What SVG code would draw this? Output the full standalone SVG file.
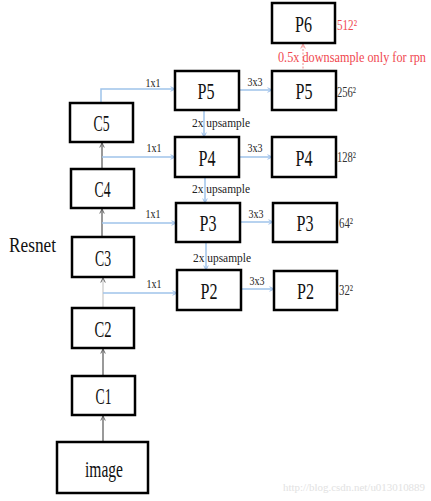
<svg xmlns="http://www.w3.org/2000/svg" width="431" height="501" viewBox="0 0 431 501">
<style>
.box{fill:#fff;stroke:#000;stroke-width:2.5}
.lbl{font-family:"Liberation Serif",serif;font-size:24px;fill:#111;text-anchor:middle}
.sm{font-family:"Liberation Serif",serif;font-size:13px;fill:#222}
.sz{font-family:"Liberation Serif",serif;font-size:15px;fill:#333}
.blue{fill:none;stroke:#9fc3ea;stroke-width:1.5;marker-end:url(#ab)}
.gray{fill:none;stroke:#555;stroke-width:1.2;marker-end:url(#ag)}
.lgray{fill:none;stroke:#c8c8c8;stroke-width:1.2;marker-end:url(#ag)}
.red{fill:none;stroke:#f08a8a;stroke-width:1;stroke-dasharray:2,1.5;marker-end:url(#ar)}
</style>
<defs>
<marker id="ab" viewBox="0 0 8 8" refX="7" refY="4" markerWidth="6" markerHeight="6" markerUnits="userSpaceOnUse" orient="auto"><path d="M1,1 L7,4 L1,7" fill="none" stroke="#8fb6e6" stroke-width="1.2"/></marker>
<marker id="ag" viewBox="0 0 8 8" refX="7" refY="4" markerWidth="6" markerHeight="6" markerUnits="userSpaceOnUse" orient="auto"><path d="M1,1 L7,4 L1,7" fill="none" stroke="#555" stroke-width="1.2"/></marker>
<marker id="ar" viewBox="0 0 8 8" refX="7" refY="4" markerWidth="6" markerHeight="6" markerUnits="userSpaceOnUse" orient="auto"><path d="M1,1 L7,4 L1,7" fill="none" stroke="#f08a8a" stroke-width="1.2"/></marker>
</defs>
<rect width="431" height="501" fill="#fff"/>
<g id="connectors">
<path class="blue" d="M101,103 V89 H175"/>
<path class="gray" d="M102,169 V143"/>
<path class="blue" d="M102,157 H175"/>
<path class="gray" d="M102,237 V209"/>
<path class="blue" d="M102,223 H176"/>
<path class="lgray" d="M103,308 V278"/>
<path class="blue" d="M103,293 H177"/>
<path class="gray" d="M103,376 V349"/>
<path class="gray" d="M103,442 V416"/>
<path class="blue" d="M239,90 H272"/>
<path class="blue" d="M239,157 H272"/>
<path class="blue" d="M240,222 H273"/>
<path class="blue" d="M241,289 H274"/>
<path class="blue" d="M204,111 V137"/>
<path class="blue" d="M205,178 V203"/>
<path class="blue" d="M206,243 V270"/>
<path class="red" d="M303,72 V44"/>
<text class="sm" x="153" y="87" text-anchor="middle" textLength="15" lengthAdjust="spacingAndGlyphs">1x1</text>
<text class="sm" x="154" y="152" text-anchor="middle" textLength="15" lengthAdjust="spacingAndGlyphs">1x1</text>
<text class="sm" x="153" y="218" text-anchor="middle" textLength="15" lengthAdjust="spacingAndGlyphs">1x1</text>
<text class="sm" x="154" y="288" text-anchor="middle" textLength="15" lengthAdjust="spacingAndGlyphs">1x1</text>
<text class="sm" x="255" y="86" text-anchor="middle" textLength="15" lengthAdjust="spacingAndGlyphs">3x3</text>
<text class="sm" x="255" y="152" text-anchor="middle" textLength="15" lengthAdjust="spacingAndGlyphs">3x3</text>
<text class="sm" x="256" y="218" text-anchor="middle" textLength="15" lengthAdjust="spacingAndGlyphs">3x3</text>
<text class="sm" x="257" y="285" text-anchor="middle" textLength="15" lengthAdjust="spacingAndGlyphs">3x3</text>
<text class="sm" x="192" y="127" textLength="58" lengthAdjust="spacingAndGlyphs">2x upsample</text>
<text class="sm" x="192" y="193" textLength="58" lengthAdjust="spacingAndGlyphs">2x upsample</text>
<text class="sm" x="193" y="262" textLength="58" lengthAdjust="spacingAndGlyphs">2x upsample</text>
<text transform="translate(278,62) scale(0.8,1)" x="0" y="0" font-family="Liberation Serif, serif" font-size="14" fill="#f0484f" textLength="185" lengthAdjust="spacingAndGlyphs">0.5x downsample only for rpn</text>
</g>
<g id="P6"><rect class="box" x="272" y="3" width="63" height="40"/><text class="lbl" x="303.5" y="32" textLength="17" lengthAdjust="spacingAndGlyphs">P6</text>
<text x="337" y="30" font-family="Liberation Serif, serif" font-size="14" fill="#f0484f" textLength="20" lengthAdjust="spacingAndGlyphs">512²</text></g>
<g id="P5out"><rect class="box" x="272" y="71" width="64" height="39"/><text class="lbl" x="304" y="99" textLength="17" lengthAdjust="spacingAndGlyphs">P5</text>
<text class="sz" x="337" y="97" textLength="19" lengthAdjust="spacingAndGlyphs">256²</text></g>
<g id="P4out"><rect class="box" x="272" y="137" width="64" height="40"/><text class="lbl" x="304" y="166" textLength="17" lengthAdjust="spacingAndGlyphs">P4</text>
<text class="sz" x="337" y="162" textLength="19" lengthAdjust="spacingAndGlyphs">128²</text></g>
<g id="P3out"><rect class="box" x="273" y="203" width="64" height="39"/><text class="lbl" x="305" y="231" textLength="17" lengthAdjust="spacingAndGlyphs">P3</text>
<text class="sz" x="339" y="228" textLength="14" lengthAdjust="spacingAndGlyphs">64²</text></g>
<g id="P2out"><rect class="box" x="274" y="271" width="63" height="39"/><text class="lbl" x="305.5" y="299" textLength="17" lengthAdjust="spacingAndGlyphs">P2</text>
<text class="sz" x="339" y="295" textLength="14" lengthAdjust="spacingAndGlyphs">32²</text></g>
<g id="P5"><rect class="box" x="175" y="71" width="64" height="39"/><text class="lbl" x="206" y="99" textLength="17" lengthAdjust="spacingAndGlyphs">P5</text></g>
<g id="P4"><rect class="box" x="175" y="137" width="64" height="40"/><text class="lbl" x="207" y="166" textLength="17" lengthAdjust="spacingAndGlyphs">P4</text></g>
<g id="P3"><rect class="box" x="176" y="203" width="64" height="39"/><text class="lbl" x="208" y="231" textLength="17" lengthAdjust="spacingAndGlyphs">P3</text></g>
<g id="P2"><rect class="box" x="177" y="270" width="64" height="40"/><text class="lbl" x="209" y="299" textLength="17" lengthAdjust="spacingAndGlyphs">P2</text></g>
<g id="C5"><rect class="box" x="70" y="103" width="63" height="39"/><text class="lbl" x="101.5" y="131" textLength="16" lengthAdjust="spacingAndGlyphs">C5</text></g>
<g id="C4"><rect class="box" x="71" y="169" width="63" height="39"/><text class="lbl" x="102.5" y="197" textLength="16" lengthAdjust="spacingAndGlyphs">C4</text></g>
<g id="C3"><rect class="box" x="72" y="237" width="62" height="40"/><text class="lbl" x="103" y="266" textLength="16" lengthAdjust="spacingAndGlyphs">C3</text></g>
<g id="C2"><rect class="box" x="72" y="308" width="62" height="40"/><text class="lbl" x="103" y="337" textLength="17" lengthAdjust="spacingAndGlyphs">C2</text></g>
<g id="C1"><rect class="box" x="72" y="376" width="63" height="39"/><text class="lbl" x="103.5" y="404" textLength="16" lengthAdjust="spacingAndGlyphs">C1</text></g>
<g id="image"><rect class="box" x="57" y="442" width="91" height="51"/><text class="lbl" x="104" y="477" font-size="22" textLength="38" lengthAdjust="spacingAndGlyphs">image</text></g>
<text x="9" y="252" font-family="Liberation Serif, serif" font-size="21" fill="#111" textLength="47" lengthAdjust="spacingAndGlyphs">Resnet</text>
<text x="283" y="491" font-family="Liberation Serif, serif" font-size="10" fill="#e2e2e2" textLength="142" lengthAdjust="spacingAndGlyphs">http://blog.csdn.net/u013010889</text>
</svg>
